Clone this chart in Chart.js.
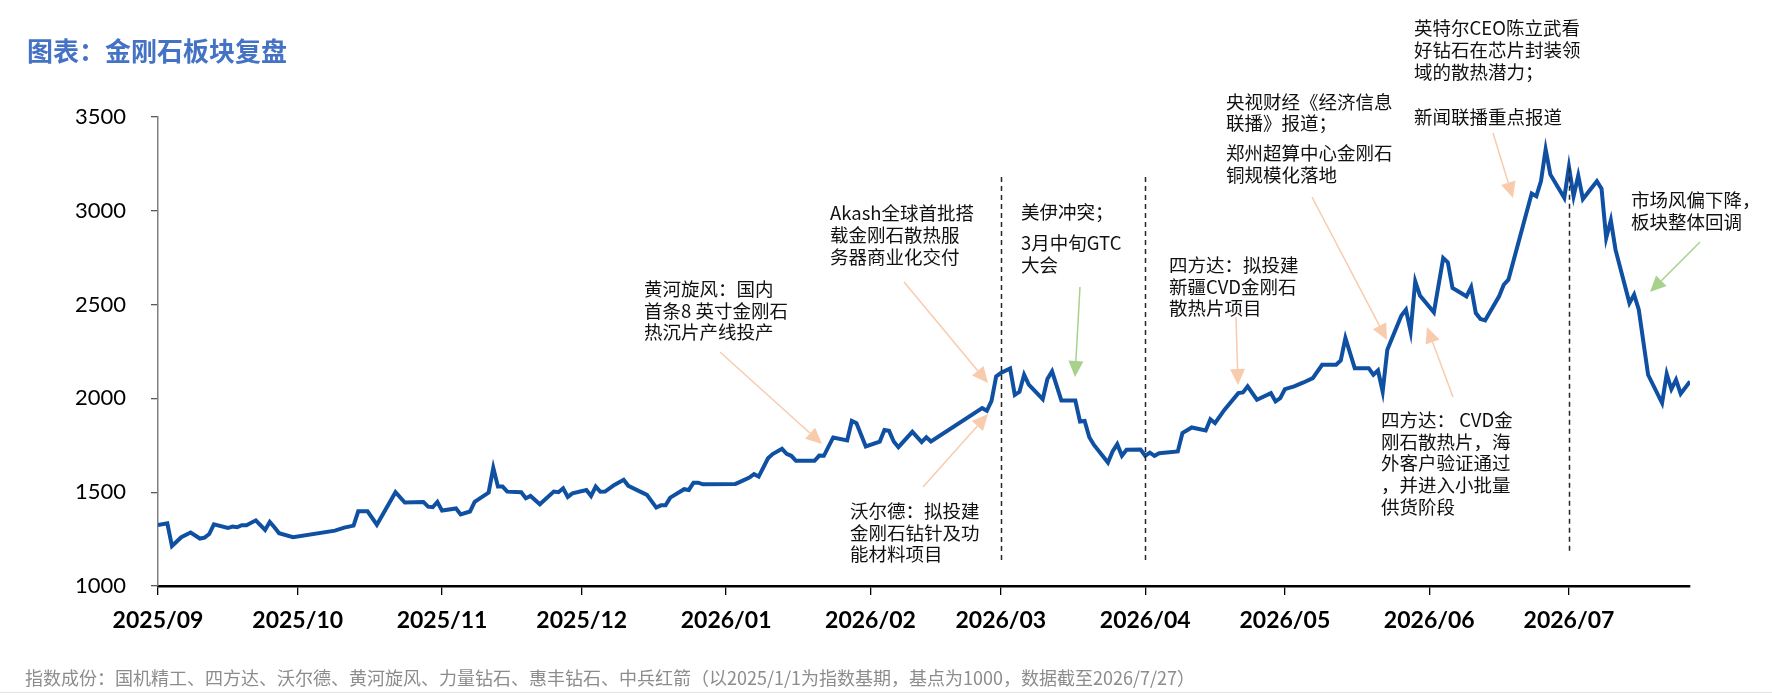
<!DOCTYPE html>
<html>
<head>
<meta charset="utf-8">
<script src="https://cdn.jsdelivr.net/npm/chart.js@4.4.1/dist/chart.umd.min.js"></script>
<style>
    html, body { margin: 0; padding: 0; background: #fff; }
    #wrap { position: relative; width: 1772px; height: 698px; overflow: hidden; }
    #title { position: absolute; left: 27px; top: 35px; font: bold 26px "Noto Sans CJK SC"; line-height: 30px; color: #4472c4; white-space: nowrap; }
    #note { position: absolute; left: 25px; top: 665px; font: 18px "Noto Sans CJK SC"; line-height: 24px; color: #8c8c8c; white-space: nowrap; }
    #rule { position: absolute; left: 0; top: 692px; width: 1772px; height: 1px; background: #dfe4ec; }
    canvas { position: absolute; left: 0; top: 0; }
</style>
</head>
<body>
<div id="wrap">
    <canvas id="line-chart" width="1772" height="698"></canvas>
    <div id="title">图表：金刚石板块复盘</div>
    <div id="note">指数成份：国机精工、四方达、沃尔德、黄河旋风、力量钻石、惠丰钻石、中兵红箭（以2025/1/1为指数基期，基点为1000，数据截至2026/7/27）</div>
    <div id="rule"></div>
</div>
<script>
// index values
const dates = [
    '2025-09-01', '2025-09-03', '2025-09-04', '2025-09-06', '2025-09-08', '2025-09-10', '2025-09-11', '2025-09-12',
    '2025-09-13', '2025-09-16', '2025-09-17', '2025-09-18', '2025-09-19', '2025-09-20', '2025-09-22', '2025-09-24',
    '2025-09-25', '2025-09-26', '2025-09-27', '2025-09-30', '2025-10-09', '2025-10-11', '2025-10-13', '2025-10-14',
    '2025-10-16', '2025-10-18', '2025-10-22', '2025-10-24', '2025-10-28', '2025-10-29', '2025-10-30', '2025-10-31',
    '2025-11-01', '2025-11-04', '2025-11-05', '2025-11-07', '2025-11-08', '2025-11-11', '2025-11-12', '2025-11-13',
    '2025-11-14', '2025-11-15', '2025-11-18', '2025-11-19', '2025-11-20', '2025-11-22', '2025-11-25', '2025-11-26',
    '2025-11-27', '2025-11-28', '2025-11-29', '2025-12-02', '2025-12-03', '2025-12-04', '2025-12-05', '2025-12-06',
    '2025-12-08', '2025-12-10', '2025-12-11', '2025-12-15', '2025-12-17', '2025-12-18', '2025-12-19', '2025-12-20',
    '2025-12-23', '2025-12-24', '2025-12-25', '2025-12-26', '2025-12-27', '2026-01-03', '2026-01-04', '2026-01-06',
    '2026-01-07', '2026-01-08', '2026-01-10', '2026-01-11', '2026-01-13', '2026-01-14', '2026-01-15', '2026-01-16',
    '2026-01-20', '2026-01-21', '2026-01-22', '2026-01-24', '2026-01-27', '2026-01-28', '2026-01-29', '2026-01-31',
    '2026-02-03', '2026-02-04', '2026-02-05', '2026-02-06', '2026-02-07', '2026-02-10', '2026-02-12', '2026-02-13',
    '2026-02-14', '2026-02-25', '2026-02-26', '2026-02-27', '2026-02-28', '2026-03-01', '2026-03-03', '2026-03-04',
    '2026-03-05', '2026-03-06', '2026-03-07', '2026-03-10', '2026-03-11', '2026-03-12', '2026-03-14', '2026-03-17',
    '2026-03-18', '2026-03-19', '2026-03-20', '2026-03-21', '2026-03-24', '2026-03-25', '2026-03-26', '2026-03-27',
    '2026-03-28', '2026-03-31', '2026-04-01', '2026-04-02', '2026-04-03', '2026-04-04', '2026-04-08', '2026-04-09',
    '2026-04-11', '2026-04-14', '2026-04-15', '2026-04-16', '2026-04-18', '2026-04-21', '2026-04-22', '2026-04-23',
    '2026-04-25', '2026-04-28', '2026-04-29', '2026-04-30', '2026-05-01', '2026-05-03', '2026-05-05', '2026-05-07',
    '2026-05-09', '2026-05-12', '2026-05-13', '2026-05-14', '2026-05-16', '2026-05-19', '2026-05-20', '2026-05-21',
    '2026-05-22', '2026-05-23', '2026-05-26', '2026-05-27', '2026-05-28', '2026-05-29', '2026-05-30', '2026-06-02',
    '2026-06-04', '2026-06-05', '2026-06-06', '2026-06-09', '2026-06-10', '2026-06-11', '2026-06-12', '2026-06-13',
    '2026-06-16', '2026-06-17', '2026-06-18', '2026-06-23', '2026-06-24', '2026-06-25', '2026-06-26', '2026-06-27',
    '2026-06-30', '2026-07-01', '2026-07-02', '2026-07-03', '2026-07-04', '2026-07-07', '2026-07-08', '2026-07-09',
    '2026-07-10', '2026-07-11', '2026-07-14', '2026-07-15', '2026-07-16', '2026-07-18', '2026-07-21', '2026-07-22',
    '2026-07-23', '2026-07-24', '2026-07-25', '2026-07-27'
];

const values = [
    1325, 1334, 1213, 1260, 1285, 1253, 1258, 1277,
    1329, 1309, 1317, 1313, 1324, 1324, 1350, 1299,
    1342, 1313, 1281, 1260, 1295, 1311, 1322, 1398,
    1398, 1327, 1500, 1445, 1448, 1423, 1420, 1448,
    1402, 1413, 1381, 1397, 1448, 1498, 1630, 1530,
    1530, 1503, 1500, 1468, 1480, 1436, 1503, 1500,
    1521, 1475, 1494, 1512, 1480, 1530, 1502, 1503,
    1539, 1566, 1534, 1486, 1418, 1430, 1430, 1471,
    1516, 1512, 1551, 1551, 1542, 1544, 1555, 1578,
    1596, 1583, 1681, 1703, 1731, 1704, 1694, 1667,
    1667, 1695, 1694, 1792, 1776, 1880, 1868, 1744,
    1770, 1832, 1827, 1770, 1740, 1822, 1767, 1793,
    1770, 1948, 1934, 1987, 2117, 2135, 2160, 2019,
    2035, 2126, 2073, 1996, 2103, 2144, 1989, 1989,
    1877, 1880, 1793, 1752, 1658, 1717, 1756, 1694,
    1726, 1727, 1694, 1711, 1694, 1708, 1717, 1815,
    1845, 1829, 1889, 1868, 1939, 2028, 2032, 2064,
    1993, 2028, 1984, 2001, 2049, 2064, 2085, 2108,
    2179, 2179, 2202, 2322, 2161, 2161, 2126, 2149,
    2037, 2259, 2441, 2473, 2357, 2624, 2549, 2459,
    2748, 2725, 2588, 2544, 2594, 2455, 2423, 2416,
    2544, 2606, 2633, 3092, 3078, 3158, 3327, 3194,
    3069, 3234, 3078, 3188, 3063, 3158, 3118, 2855,
    2950, 2793, 2508, 2553, 2473, 2126, 1975, 2131,
    2049, 2099, 2025, 2090
];

const monthTicks = [
    '2025-09-01', '2025-10-01', '2025-11-01', '2025-12-01', '2026-01-01', '2026-02-01',
    '2026-03-01', '2026-04-01', '2026-05-01', '2026-06-01', '2026-07-01'
];
const monthLabels = [
    '2025/09', '2025/10', '2025/11', '2025/12', '2026/01', '2026/02',
    '2026/03', '2026/04', '2026/05', '2026/06', '2026/07'
];
const yTicks = [1000, 1500, 2000, 2500, 3000, 3500];

// day number from 'YYYY-MM-DD'
function toDay(s) {
    const p = s.split('-');
    return Date.UTC(+p[0], +p[1] - 1, +p[2]) / 86400000;
}

const points = dates.map((d, i) => ({ x: toDay(d), y: values[i] }));

// dashed separators, date + value span
const splits = [
    { date: '2026-03-01', from: 1125, to: 3180 },
    { date: '2026-04-01', from: 1130, to: 3180 },
    { date: '2026-07-01', from: 1175, to: 3230 }
];

// callout texts (canvas px, line centre)
const notes = [
    { x: 644, lines: [['黄河旋风：国内', 289], ['首条8 英寸金刚石', 311], ['热沉片产线投产', 332]] },
    { x: 830, lines: [['Akash全球首批搭', 213], ['载金刚石散热服', 235], ['务器商业化交付', 257]] },
    { x: 850, lines: [['沃尔德：拟投建', 511], ['金刚石钻针及功', 533], ['能材料项目', 554]] },
    { x: 1021, lines: [['美伊冲突；', 212], ['3月中旬GTC', 243], ['大会', 265]] },
    { x: 1169, lines: [['四方达：拟投建', 265], ['新疆CVD金刚石', 287], ['散热片项目', 308]] },
    { x: 1226, lines: [['央视财经《经济信息', 102], ['联播》报道；', 123], ['郑州超算中心金刚石', 153], ['铜规模化落地', 175]] },
    { x: 1414, lines: [['英特尔CEO陈立武看', 28], ['好钻石在芯片封装领', 50], ['域的散热潜力；', 72], ['新闻联播重点报道', 117]] },
    { x: 1381, lines: [['四方达： CVD金', 420], ['刚石散热片，海', 442], ['外客户验证通过', 463], ['，并进入小批量', 485], ['供货阶段', 507]] },
    { x: 1631, lines: [['市场风偏下降，', 200], ['板块整体回调', 222]] }
];

const ORANGE = '#f8cbad';
const GREEN = '#a9d18e';
const arrows = [
    { from: [720, 352], to: [822, 444], color: ORANGE },
    { from: [904, 282], to: [988, 383], color: ORANGE },
    { from: [923, 487], to: [988, 414], color: ORANGE },
    { from: [1080, 287], to: [1075, 377], color: GREEN },
    { from: [1236, 317], to: [1238, 385], color: ORANGE },
    { from: [1312, 197], to: [1387, 340], color: ORANGE },
    { from: [1453, 397], to: [1427, 327], color: ORANGE },
    { from: [1493, 133], to: [1513, 198], color: ORANGE },
    { from: [1700, 242], to: [1650, 292], color: GREEN }
];

function drawArrow(ctx, a) {
    const [x1, y1] = a.from;
    const [x2, y2] = a.to;
    const ang = Math.atan2(y2 - y1, x2 - x1);
    const len = 16, half = 7.5;
    const bx = x2 - len * Math.cos(ang);
    const by = y2 - len * Math.sin(ang);
    ctx.strokeStyle = a.color;
    ctx.lineWidth = 1.5;
    ctx.beginPath();
    ctx.moveTo(x1, y1);
    ctx.lineTo(bx, by);
    ctx.stroke();
    ctx.fillStyle = a.color;
    ctx.beginPath();
    ctx.moveTo(x2, y2);
    ctx.lineTo(bx + half * Math.sin(ang), by - half * Math.cos(ang));
    ctx.lineTo(bx - half * Math.sin(ang), by + half * Math.cos(ang));
    ctx.closePath();
    ctx.fill();
}

const calloutPlugin = {
    id: 'callouts',
    afterDatasetsDraw(chart) {
        const ctx = chart.ctx;
        const xs = chart.scales.x;
        const ys = chart.scales.y;
        ctx.save();

        ctx.strokeStyle = '#262626';
        ctx.lineWidth = 1.5;
        ctx.setLineDash([5, 4]);
        splits.forEach(s => {
            const px = Math.round(xs.getPixelForValue(toDay(s.date))) + 0.5;
            ctx.beginPath();
            ctx.moveTo(px, ys.getPixelForValue(s.to));
            ctx.lineTo(px, ys.getPixelForValue(s.from));
            ctx.stroke();
        });
        ctx.setLineDash([]);

        arrows.forEach(a => drawArrow(ctx, a));

        ctx.fillStyle = '#111';
        ctx.font = '18.5px "Noto Sans CJK SC"';
        ctx.textAlign = 'left';
        ctx.textBaseline = 'middle';
        notes.forEach(n => {
            n.lines.forEach(l => ctx.fillText(l[0], n.x, l[1]));
        });
        ctx.restore();
    }
};

function drawChart() {
    const ctx = document.getElementById('line-chart').getContext('2d');
    window.myLineChart = new Chart(ctx, {
        type: 'line',
        data: {
            datasets: [{
                data: points,
                borderColor: '#0f50a3',
                borderWidth: 4,
                pointRadius: 0,
                tension: 0,
                fill: false
            }]
        },
        options: {
            responsive: false,
            animation: false,
            layout: { padding: { top: 117, right: 82, left: 0, bottom: 0 } },
            plugins: {
                legend: { display: false },
                tooltip: { enabled: false }
            },
            scales: {
                x: {
                    type: 'linear',
                    min: toDay(dates[0]),
                    max: toDay(dates[dates.length - 1]),
                    afterBuildTicks: axis => {
                        axis.ticks = monthTicks.map(d => ({ value: toDay(d) }));
                    },
                    afterFit: axis => { axis.height = 112; },
                    ticks: {
                        callback: (v, i) => monthLabels[i],
                        autoSkip: false,
                        maxRotation: 0,
                        padding: 12,
                        color: '#000',
                        font: { family: 'Lato', size: 23, weight: 'bold' }
                    },
                    grid: { drawOnChartArea: false, tickLength: 9, color: '#000', lineWidth: 1.3 },
                    border: { color: '#000', width: 2.5 }
                },
                y: {
                    min: yTicks[0],
                    max: yTicks[yTicks.length - 1],
                    afterBuildTicks: axis => {
                        axis.ticks = yTicks.map(v => ({ value: v }));
                    },
                    afterFit: axis => { axis.width = 158; },
                    ticks: {
                        callback: v => String(v),
                        padding: 25,
                        color: '#000',
                        font: { family: 'Lato', size: 22 }
                    },
                    grid: { drawOnChartArea: false, tickLength: 7, color: '#595959', lineWidth: 1.3 },
                    border: { color: '#7f7f7f', width: 1.5 }
                }
            }
        },
        plugins: [calloutPlugin]
    });
}

drawChart();
</script>
</body>
</html>
